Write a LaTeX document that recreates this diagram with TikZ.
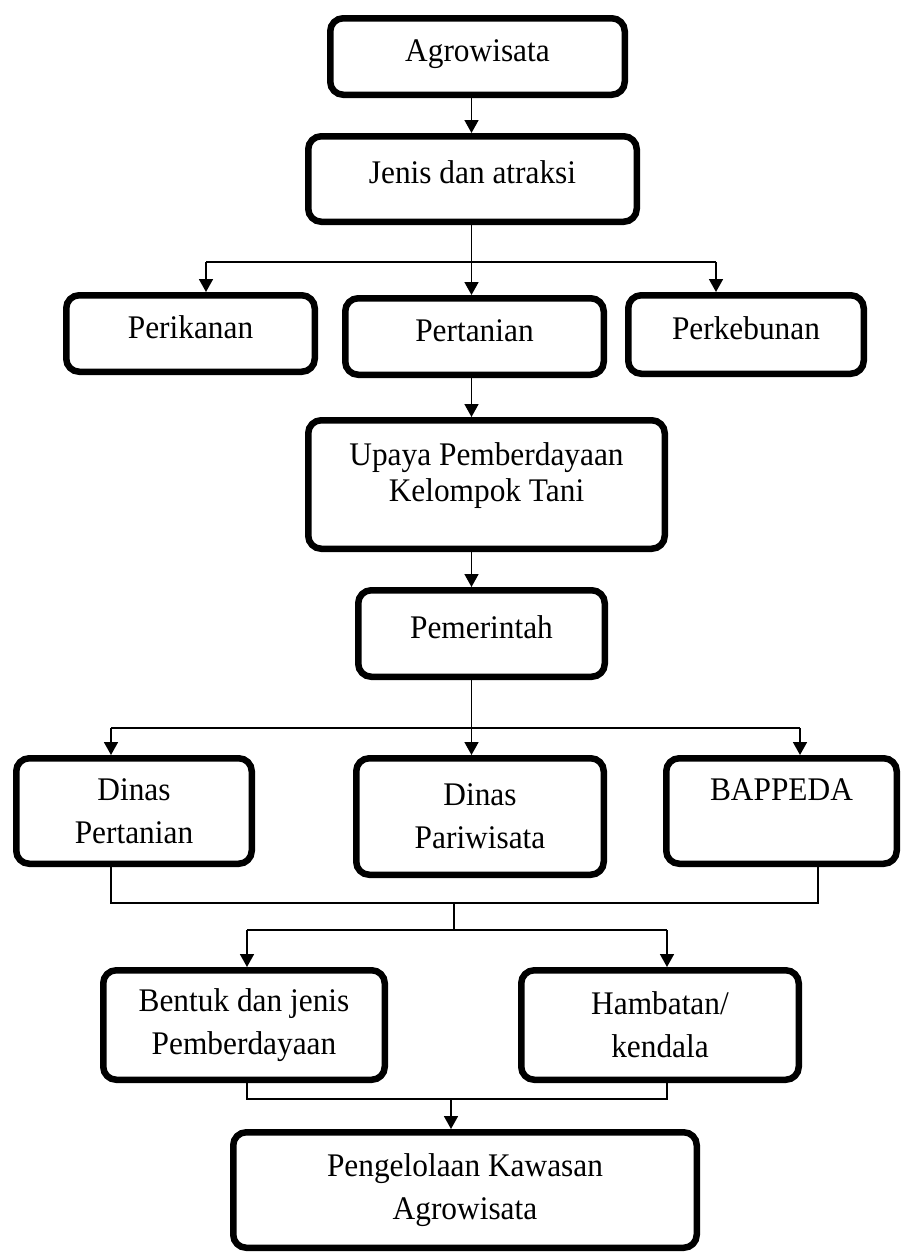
\documentclass[tikz,border=0pt]{standalone}
\usepackage{fontspec}
\setmainfont{Liberation Serif}[FakeStretch=0.95]
\usetikzlibrary{arrows.meta}
\begin{document}
\begin{tikzpicture}[x=0.5pt,y=-0.5pt,
  box/.style={draw=black, line width=3.25pt, rounded corners=6.5pt, align=center,
    inner sep=0pt, font=\fontsize{16.5pt}{21.5pt}\selectfont},
  one/.style={text height=0.7em, text depth=0.25em},
  conn/.style={line width=0.85pt, draw=black},
  arr/.style={conn, -{Triangle[width=7pt,length=6.5pt]}}]
\useasboundingbox (0,0) rectangle (901,1253);

% boxes
\node[box,one,minimum width=147.25pt,minimum height=38.25pt] (agro) at (477.5,56.5) {Agrowisata};
\node[box,one,minimum width=164.25pt,minimum height=42.75pt] (jenis) at (472.5,179) {Jenis dan atraksi};
\node[box,one,minimum width=124.25pt,minimum height=38.25pt] (perik) at (190.5,333.5) {Perikanan};
\node[box,one,minimum width=129.25pt,minimum height=38.25pt] (pert) at (474.5,336.5) {Pertanian};
\node[box,one,minimum width=117.75pt,minimum height=39.25pt] (perk) at (746,334.5) {Perkebunan};
\node[box,minimum width=178.25pt,minimum height=64.25pt,font=\fontsize{16.5pt}{18pt}\selectfont] (upaya) at (486.5,484.5) {Upaya Pemberdayaan\\Kelompok Tani\\[-6pt]\mbox{}};
\node[box,one,minimum width=123.25pt,minimum height=43.25pt] (pem) at (481.5,633.5) {Pemerintah};
\node[box,minimum width=117.75pt,minimum height=52.75pt] (dp) at (134,811) {Dinas\\Pertanian};
\node[box,minimum width=123.75pt,minimum height=58.25pt] (dpar) at (480,816.5) {Dinas\\Pariwisata};
\node[box,minimum width=115.25pt,minimum height=52.75pt] (bap) at (781.5,811) {BAPPEDA\\\mbox{}};
\node[box,minimum width=140.75pt,minimum height=54.75pt] (bentuk) at (244,1025) {Bentuk dan jenis\\Pemberdayaan};
\node[box,minimum width=138.75pt,minimum height=54.75pt] (ham) at (660,1025) {Hambatan/\\kendala};
\node[box,minimum width=231.75pt,minimum height=57.75pt] (peng) at (465,1190) {Pengelolaan Kawasan\\Agrowisata};

% spine
\coordinate (sp) at (471.5,0);
\draw[arr] (agro.south -| sp) -- (jenis.north -| sp);

% first branch
\coordinate (b1) at (206,262);
\coordinate (b3) at (716,262);
\draw[conn] (b1) -- (b3);
\draw[arr] (jenis.south -| sp) -- (pert.north -| sp);
\draw[arr] (b1) -- (b1 |- perik.north);
\draw[arr] (b3) -- (b3 |- perk.north);
\draw[arr] (pert.south -| sp) -- (upaya.north -| sp);
\draw[arr] (upaya.south -| sp) -- (pem.north -| sp);

% second branch
\coordinate (c1) at (111,728);
\coordinate (c3) at (800,728);
\draw[conn] (c1) -- (c3);
\draw[arr] (pem.south -| sp) -- (dpar.north -| sp);
\draw[arr] (c1) -- (c1 |- dp.north);
\draw[arr] (c3) -- (c3 |- bap.north);

% merge
\coordinate (m1) at (111,903);
\coordinate (m3) at (818,903);
\coordinate (mm) at (454,903);
\draw[conn] (dp.south -| m1) -- (m1) -- (m3) -- (bap.south -| m3);
\coordinate (d1) at (247,930);
\coordinate (d3) at (667,930);
\draw[conn] (mm) -- (mm |- d1);
\draw[conn] (d1) -- (d3);
\draw[arr] (d1) -- (d1 |- bentuk.north);
\draw[arr] (d3) -- (d3 |- ham.north);

% final merge
\coordinate (e1) at (247,1099);
\coordinate (e3) at (667,1099);
\coordinate (em) at (451,1099);
\draw[conn] (bentuk.south -| e1) -- (e1) -- (e3) -- (ham.south -| e3);
\draw[arr] (em) -- (em |- peng.north);
\end{tikzpicture}
\end{document}
